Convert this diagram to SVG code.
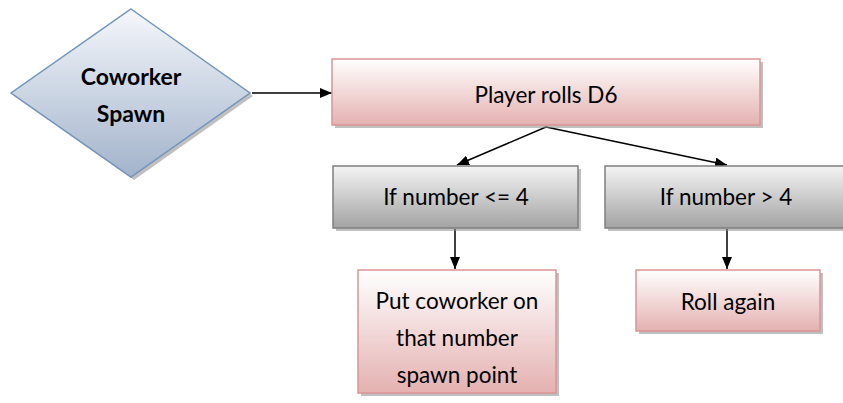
<svg xmlns="http://www.w3.org/2000/svg" width="843" height="403" viewBox="0 0 843 403">
<style>
text{font-family:Lato,"Open Sans","Liberation Sans",sans-serif;font-size:22.5px;fill:#000;text-anchor:middle}
.b{font-weight:bold;font-size:23px}
.pink{fill:url(#gp);stroke:#d99594;stroke-width:1.5}
.gray{fill:url(#gg);stroke:#7f7f7f;stroke-width:1.5}
.sh{fill:#8c8c8c;opacity:0.55}
.c{stroke:#000;stroke-width:1.5;fill:none;marker-end:url(#ah)}
</style>
<defs>
<linearGradient id="gp" x1="0" y1="0" x2="0" y2="1"><stop offset="0" stop-color="#ffffff"/><stop offset="1" stop-color="#e4b1b0"/></linearGradient>
<linearGradient id="gg" x1="0" y1="0" x2="0" y2="1"><stop offset="0" stop-color="#f4f4f4"/><stop offset="1" stop-color="#a3a3a3"/></linearGradient>
<linearGradient id="gd" x1="0" y1="0" x2="0" y2="1"><stop offset="0" stop-color="#f5f7fb"/><stop offset="1" stop-color="#a2b3cb"/></linearGradient>
<marker id="ah" viewBox="0 0 12 10" refX="12" refY="5" markerWidth="12" markerHeight="10" markerUnits="userSpaceOnUse" orient="auto"><path d="M0,0 L12,5 L0,10 z" fill="#000"/></marker>
</defs>
<g id="connectors">
<line class="c" x1="252" y1="93" x2="332" y2="93"/>
<line class="c" x1="546" y1="127" x2="457" y2="165"/>
<line class="c" x1="546" y1="127" x2="727" y2="165"/>
<line class="c" x1="455" y1="229" x2="455" y2="269"/>
<line class="c" x1="727" y1="229" x2="727" y2="269"/>
</g>
<g id="coworker-spawn">
<path class="sh" d="M134,12 L253,96 L134,180 L14,96 z"/>
<path d="M131,9 L250,93 L131,177 L11,93 z" fill="url(#gd)" stroke="#7394bc" stroke-width="1.5"/>
<text class="b" x="131" y="85">Coworker</text>
<text class="b" x="131" y="122">Spawn</text>
</g>
<g id="player-rolls">
<rect class="sh" x="335" y="62" width="428" height="66"/>
<rect class="pink" x="332" y="59" width="428" height="66"/>
<text x="546" y="103">Player rolls D6</text>
</g>
<g id="if-le-4">
<rect class="sh" x="336" y="169" width="245" height="62"/>
<rect class="gray" x="333" y="166" width="245" height="62"/>
<text x="456" y="205">If number &lt;= 4</text>
</g>
<g id="if-gt-4">
<rect class="sh" x="608" y="169" width="250" height="62"/>
<rect class="gray" x="605" y="166" width="250" height="62"/>
<text x="726" y="205">If number &gt; 4</text>
</g>
<g id="put-coworker">
<rect class="sh" x="361" y="273" width="198" height="123"/>
<rect class="pink" x="358" y="270" width="198" height="123"/>
<text x="457" y="309">Put coworker on</text>
<text x="457" y="346">that number</text>
<text x="457" y="383">spawn point</text>
</g>
<g id="roll-again">
<rect class="sh" x="639" y="273" width="184" height="61"/>
<rect class="pink" x="636" y="270" width="184" height="61"/>
<text x="728" y="310">Roll again</text>
</g>
</svg>
